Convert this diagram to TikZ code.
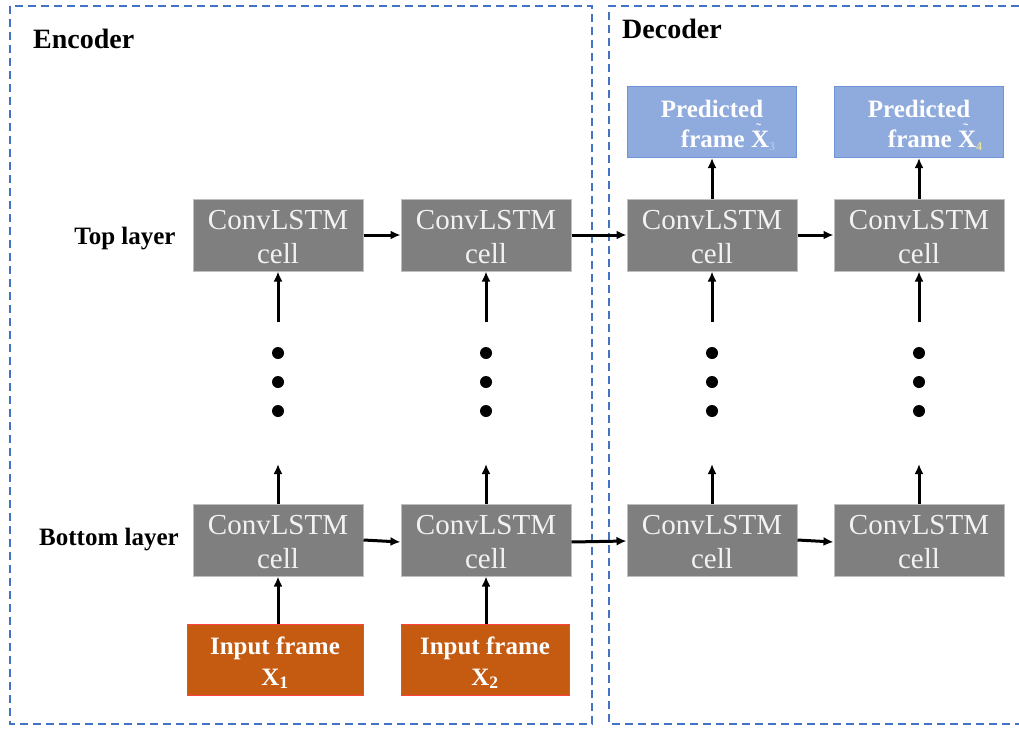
\documentclass[tikz,border=0pt]{standalone}
\usepackage{fontspec}
\setmainfont{Liberation Serif}
\usetikzlibrary{arrows.meta}
\definecolor{cellgray}{HTML}{7F7F7F}
\definecolor{cellborder}{HTML}{BFBFBF}
\definecolor{predblue}{HTML}{8FAADC}
\definecolor{predborder}{HTML}{6F95D8}
\definecolor{inorange}{HTML}{C55A11}
\definecolor{inborder}{HTML}{FF4040}
\definecolor{dashblue}{HTML}{4472C4}
\definecolor{subblue}{HTML}{A9C8EC}
\definecolor{subyellow}{HTML}{E8E29A}
\newcommand{\tildeX}{\makebox[0pt][l]{\hspace{0.2em}\raisebox{0.5em}{\fontsize{16}{16}\selectfont\mdseries\char"02DC}}X}
\newcommand{\zl}[2]{\raisebox{-#1pt}[0pt][0pt]{#2}}
\tikzset{
  cellbox/.style={draw=cellborder, line width=1pt, fill=cellgray, text=white!95!black,
    minimum width=170pt, minimum height=72pt, inner sep=0pt, align=center,
    font=\fontsize{29}{34}\selectfont},
  predbox/.style={draw=predborder, line width=1pt, fill=predblue, text=white,
    minimum width=169pt, minimum height=71pt, inner sep=0pt, align=center,
    font=\fontsize{25}{30}\selectfont\bfseries},
  inbox/.style={draw=inborder, line width=1pt, fill=inorange, text=white,
    minimum height=71pt, inner sep=0pt, align=center,
    font=\fontsize{25}{31}\selectfont\bfseries},
  lbl/.style={inner sep=0pt, font=\fontsize{25}{30}\selectfont\bfseries},
  title/.style={inner sep=0pt, anchor=west, font=\fontsize{28}{30}\selectfont\bfseries},
  arr/.style={line width=3pt, -{Latex[length=10pt,width=9pt]}},
  frameline/.style={draw=dashblue, line width=2pt, dash pattern=on 8pt off 5pt},
  dot/.style={circle, fill=black, inner sep=0pt, minimum size=12pt}
}
\begin{document}
\begin{tikzpicture}[x=1pt,y=-1pt]
\useasboundingbox (0,0) rectangle (1019,728);
% frames
\draw[frameline] (10,6) rectangle (592,724);
\draw[frameline] (1019,6) -- (609,6) -- (609,724) -- (1019,724);
\node[title] (enc) at (33,39) {Encoder};
\node[title] (dec) at (622,29) {Decoder};
\node[lbl] (toplbl) at (125,239) {Top layer};
\node[lbl] (botlbl) at (109,540) {Bottom layer};
% cells
\foreach \n/\x in {1/278,2/486,3/712,4/919}{
  \node[cellbox] (t\n) at (\x,235) {\zl{11}{ConvLSTM}\\\zl{11}{cell}};
  \node[cellbox] (b\n) at (\x,540) {\zl{11}{ConvLSTM}\\\zl{11}{cell}};
  \node[dot] (da\n) at (\x,353) {};
  \node[dot] (db\n) at (\x,382) {};
  \node[dot] (dc\n) at (\x,411) {};
  \coordinate (s\n) at (\x,322);
  \coordinate (e\n) at (\x,464);
  \draw[arr] (s\n) -- (t\n.south);
  \draw[arr] (b\n.north) -- (e\n);
}
% inputs
\node[inbox, minimum width=176pt] (i1) at (275,660) {\zl{9.5}{Input frame}\\\zl{9.5}{X\textsubscript{1}}};
\node[inbox, minimum width=168pt] (i2) at (485,660) {\zl{9.5}{Input frame}\\\zl{9.5}{X\textsubscript{2}}};
\draw[arr] (b1.south |- i1.north) -- (b1.south);
\draw[arr] (b2.south |- i2.north) -- (b2.south);
% predictions
\node[predbox] (p3) at (712,122) {\zl{10}{Predicted}\\\zl{10}{\hspace*{1.3em}frame \tildeX\textsubscript{\textcolor{subblue}{\fontsize{12}{12}\selectfont 3}}}};
\node[predbox] (p4) at (919,122) {\zl{10}{Predicted}\\\zl{10}{\hspace*{1.3em}frame \tildeX\textsubscript{\textcolor{subyellow}{\fontsize{12}{12}\selectfont 4}}}};
\draw[arr] (t3.north) -- (p3.south);
\draw[arr] (t4.north) -- (p4.south);
% horizontal
\draw[arr] (t1.east) -- (t2.west);
\draw[arr] (t2.east) -- (t3.west);
\draw[arr] (t3.east) -- (t4.west);
\draw[arr] (b1.east) -- ([yshift=-2pt]b2.west);
\draw[arr] ([yshift=-2pt]b2.east) -- ([yshift=-1pt]b3.west);
\draw[arr] (b3.east) -- ([yshift=-2pt]b4.west);
\end{tikzpicture}
\end{document}
